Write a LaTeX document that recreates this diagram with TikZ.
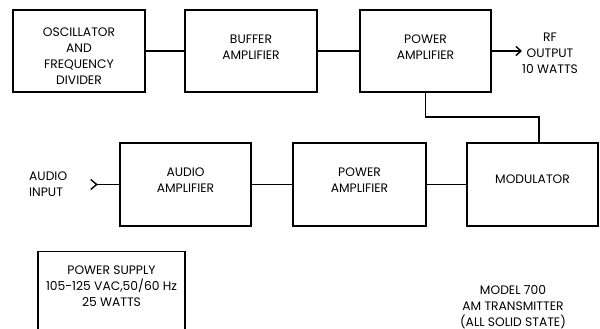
\documentclass[tikz,border=0pt]{standalone}
\usepackage{fontspec}
\setmainfont{Poppins}
\usetikzlibrary{arrows.meta}
\newcommand\lbltxt{\fontsize{12.3}{15.8}\selectfont}
\begin{document}
\begin{tikzpicture}[x=1pt,y=-1pt,
  box/.style={draw, line width=1.4pt, inner sep=0pt},
  wire/.style={line width=1.4pt},
  txt/.style={align=center, font=\lbltxt, inner sep=0pt}]
\useasboundingbox (0,0) rectangle (600,329);
\clip (0,0) rectangle (600,329);
% top row
\node[box, minimum width=132pt, minimum height=82pt,
  label={[txt,yshift=-5pt,font=\fontsize{12.3}{16.2}\selectfont]center:OSCILLATOR\\AND\\FREQUENCY\\DIVIDER}] (osc) at (79,51) {};
\node[box, minimum width=132pt, minimum height=82pt,
  label={[txt,yshift=3.5pt]center:BUFFER\\AMPLIFIER}] (buf) at (251,51) {};
\node[box, minimum width=131pt, minimum height=82pt,
  label={[txt,yshift=3.5pt]center:POWER\\AMPLIFIER}] (pa1) at (425.5,51) {};
\coordinate (rf) at (522,51);
\node[txt] (rftext) at (550,53) {RF\\OUTPUT\\10 WATTS};
% bottom row
\node[box, minimum width=131pt, minimum height=83pt,
  label={[txt,yshift=4pt]center:AUDIO\\AMPLIFIER}] (aa) at (185.5,184.5) {};
\node[box, minimum width=133pt, minimum height=83pt,
  label={[txt,yshift=4pt]center:POWER\\AMPLIFIER}] (pa2) at (359.5,184.5) {};
\node[box, minimum width=131pt, minimum height=83pt,
  label={[txt,yshift=5pt]center:MODULATOR}] (mod) at (532.5,184.5) {};
\coordinate (ain) at (90,184.5);
\node[txt, align=left, anchor=west] (aintext) at (29,184) {AUDIO\\INPUT};
\coordinate (j) at (539,117);
% connectors
\draw[wire] (osc) -- (buf);
\draw[wire] (buf) -- (pa1);
\draw[wire, -{Straight Barb[length=5pt,width=9pt]}] (pa1) -- (rf);
\draw[wire] (pa1.south) |- (j) -- (j |- mod.north);
\draw[wire] (mod) -- (pa2);
\draw[wire] (pa2) -- (aa);
\draw[wire, {Straight Barb[reversed,length=6pt,width=10pt]}-] (ain) -- (aa.west);
% power supply
\node[box, minimum width=147pt, minimum height=100pt, anchor=north] (ps) at (111.5,251) {};
\node[txt] (pstext) at (111.5,286) {POWER SUPPLY\\105-125 VAC,50/60 Hz\\25 WATTS};
% model text
\node[txt] (model) at (513,307) {MODEL 700\\AM TRANSMITTER\\(ALL SOLID STATE)};
\end{tikzpicture}
\end{document}
